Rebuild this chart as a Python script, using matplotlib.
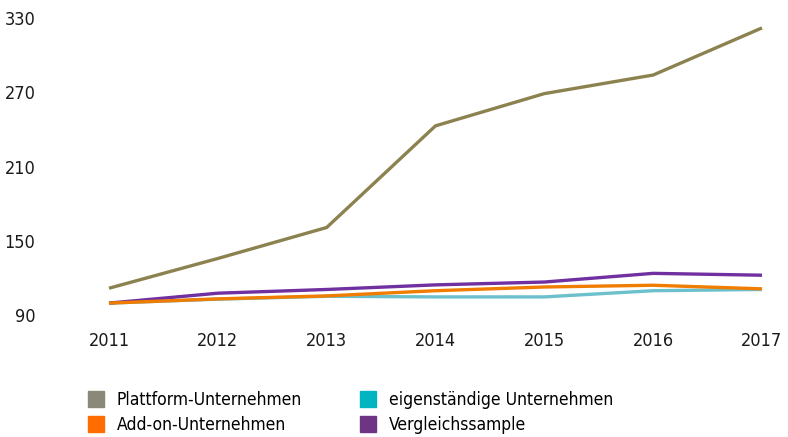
import matplotlib
matplotlib.use("Agg")
import matplotlib.pyplot as plt
from matplotlib.lines import Line2D

years = [2011, 2012, 2013, 2014, 2015, 2016, 2017]
plattform = [112, 136, 161, 243, 269, 284, 322]
add_on = [100, 103.4, 105.8, 110, 113, 114.4, 111.5]
eigenstaendig = [100, 103.2, 105.5, 105, 105, 110, 111]
vergleich = [100, 108, 111, 114.7, 117, 124, 122.5]
yticks = [90, 150, 210, 270, 330]

labels = ["Plattform-Unternehmen", "Add-on-Unternehmen",
          "eigenständige Unternehmen", "Vergleichssample"]
line_colors = ["#8c8250", "#f07d00", "#6cc0cc", "#7030a0"]
legend_colors = ["#8a8878", "#ff6d00", "#00b5c0", "#6e3585"]

# condensed face to get close to the narrow original font
plt.rcParams['font.family'] = ['DejaVu Sans']
plt.rcParams['font.stretch'] = 'condensed'

fig = plt.figure(figsize=(7.88, 4.37), dpi=100)
W, H = 788, 437
ax = fig.add_axes([109 / W, (H - 315.5) / H, (762 - 109) / W, (315.5 - 18) / H])

series = [plattform, add_on, eigenstaendig, vergleich]
order = [2, 1, 3, 0]
for i in order:
    ax.plot(years, series[i], color=line_colors[i], lw=2.4, clip_on=False,
            solid_capstyle='butt', zorder=2 + (i == 1))

ax.set_xlim(2011, 2017)
ax.set_ylim(90, 330)
ax.set_xticks(years)
ax.set_yticks(yticks)
ax.tick_params(length=0, labelsize=13, colors='#1a1a1a')
ax.tick_params(axis='x', pad=12)
ax.tick_params(axis='y', pad=53)
for s in ax.spines.values():
    s.set_visible(False)

handles = [Line2D([], [], marker='s', ls='none', markersize=11,
                  markerfacecolor=c, markeredgecolor=c) for c in legend_colors]
fig.legend(handles, labels, ncol=2, loc='upper left',
           bbox_to_anchor=(80 / W, 1 - 384 / H), frameon=False,
           fontsize=12.5, handletextpad=0.7, columnspacing=3.3,
           labelspacing=0.42, handlelength=1.0, borderaxespad=0)

fig.savefig("out.png", dpi=100)
